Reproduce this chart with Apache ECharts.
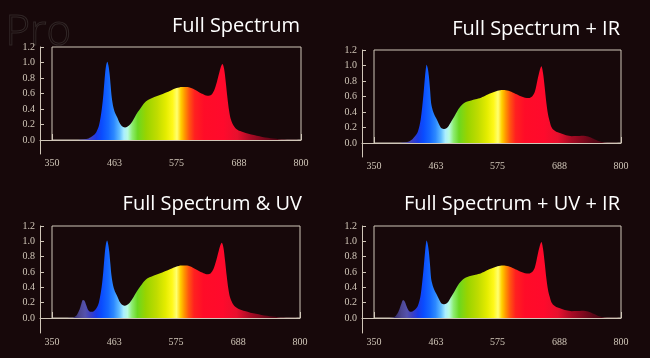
<!DOCTYPE html>
<html><head><meta charset="utf-8">
<script src="https://cdn.jsdelivr.net/npm/echarts@6/dist/echarts.min.js"></script>
<style>html,body{margin:0;padding:0;background:#17080a;}#c{width:650px;height:358px;}</style>
</head><body><div id="c"></div>
<script>
// ---- data ----
const wavelengths = [350,370,385,390,395,400,403,406,409,412,416,420,425,430,435,440,443,446,448,450,452,454,456,458,461,464,468,473,478,482,486,491,496,500,505,510,515,520,527,535,545,555,565,575,585,595,605,615,625,632,638,643,648,652,655,658,661,664,667,670,673,677,682,690,700,710,720,730,740,750,760,770,780,800];
const fullSpectrum = [0,0,0,0,0,0.003,0.005,0.007,0.009,0.012, 0.02,0.035,0.06,0.1,0.19,0.4,0.6,0.86,0.97,1.01, 0.96,0.86,0.7,0.55,0.42,0.35,0.29,0.21,0.17,0.16, 0.17,0.2,0.25,0.3,0.36,0.41,0.46,0.5,0.53,0.555, 0.58,0.61,0.64,0.67,0.685,0.685,0.66,0.62,0.585,0.57, 0.585,0.64,0.75,0.86,0.94,0.98,0.92,0.75,0.55,0.38, 0.27,0.2,0.15,0.115,0.09,0.07,0.055,0.04,0.028,0.018, 0.01,0.005,0.002,0];
const fullSpectrumIR = [0,0,0,0,0,0.004,0.006,0.008,0.011,0.015, 0.03,0.05,0.09,0.15,0.3,0.62,0.86,1.01,0.96,0.86, 0.7,0.52,0.45,0.4,0.35,0.31,0.25,0.19,0.18,0.19, 0.22,0.28,0.34,0.39,0.45,0.49,0.52,0.535,0.55,0.565, 0.585,0.62,0.65,0.675,0.685,0.675,0.645,0.61,0.585,0.58, 0.6,0.66,0.82,0.94,0.99,0.9,0.72,0.52,0.37,0.28, 0.21,0.17,0.145,0.125,0.1,0.088,0.09,0.095,0.085,0.055, 0.022,0.007,0.002,0];
const fullSpectrumUV = [0,0,0.003,0.01,0.04,0.11,0.18,0.235,0.225,0.17, 0.1,0.08,0.085,0.12,0.2,0.4,0.6,0.86,0.97,1.01, 0.96,0.86,0.7,0.55,0.42,0.35,0.29,0.21,0.17,0.16, 0.17,0.2,0.25,0.3,0.36,0.41,0.46,0.5,0.53,0.555, 0.58,0.61,0.64,0.67,0.685,0.685,0.66,0.62,0.585,0.57, 0.585,0.64,0.75,0.86,0.94,0.98,0.92,0.75,0.55,0.38, 0.27,0.2,0.15,0.115,0.09,0.07,0.055,0.04,0.028,0.018, 0.01,0.005,0.002,0];
const fullSpectrumUVIR = [0,0,0.008,0.03,0.09,0.19,0.235,0.215,0.16,0.11, 0.08,0.085,0.11,0.16,0.3,0.62,0.86,1.01,0.96,0.86, 0.7,0.52,0.45,0.4,0.35,0.31,0.25,0.19,0.18,0.19, 0.22,0.28,0.34,0.39,0.45,0.49,0.52,0.535,0.55,0.565, 0.585,0.62,0.65,0.675,0.685,0.675,0.645,0.61,0.585,0.58, 0.6,0.66,0.82,0.94,0.99,0.9,0.72,0.52,0.37,0.28, 0.21,0.17,0.145,0.125,0.1,0.088,0.09,0.095,0.085,0.055, 0.022,0.007,0.002,0];
const panelTitles = ['Full Spectrum','Full Spectrum + IR','Full Spectrum & UV','Full Spectrum + UV + IR'];
const xTickLabels = [350,463,575,688,800];
const yTickLabels = [0,0.2,0.4,0.6,0.8,1.0,1.2];
const X_MIN = 350, X_MAX = 800, Y_MIN = 0, Y_MAX = 1.2;

// ---- styling ----
const spectrumColors = [
  [350,'#1c1438'],[385,'#2e2660'],[400,'#4c4692'],[410,'#5552ac'],[420,'#3c40c4'],
  [430,'#1a3ae8'],[440,'#0a4cff'],[452,'#1468ff'],[462,'#2c88ff'],[472,'#60bcff'],
  [480,'#aaeeff'],[487,'#b8fbe0'],[495,'#8cec70'],[505,'#6cd820'],[520,'#98d400'],
  [540,'#c0dc00'],[556,'#e4ec00'],[568,'#fff81a'],[576,'#ffff70'],[583,'#ffd000'],
  [590,'#ff9400'],[598,'#ff5410'],[608,'#ff2020'],[625,'#ff0c28'],[660,'#ff0a2c'],
  [685,'#e8102e'],[710,'#a80a24'],[750,'#5a0616'],[800,'#30040c']
];
const bg = '#17080a';
const axisColor = '#d0c6b8';
const labelFont = '"Liberation Serif", "DejaVu Serif", serif';
const panels = [
  {values: fullSpectrum,     box:{left:52, top:47, width:249, height:93}, axis:{left:40, bottom:154}, title:{right:350, top:16}},
  {values: fullSpectrumIR,   box:{left:374, top:50, width:247, height:93}, axis:{left:362, bottom:157}, title:{right:30, top:19}},
  {values: fullSpectrumUV,   box:{left:52, top:226, width:248, height:92}, axis:{left:40, bottom:333}, title:{right:348, top:194}},
  {values: fullSpectrumUVIR, box:{left:374, top:226, width:247, height:92}, axis:{left:362, bottom:333}, title:{right:30, top:194}}
];

const chart = echarts.init(document.getElementById('c'), null, {renderer:'canvas'});
const grid = [], xAxis = [], yAxis = [], series = [], title = [];
const grad = () => new echarts.graphic.LinearGradient(0,0,1,0,
  spectrumColors.map(([w,c]) => ({offset:(w - X_MIN)/(X_MAX - X_MIN), color:c})));

panels.forEach((p, i) => {
  const b = p.box;
  grid.push({left:b.left, top:b.top, width:b.width, height:b.height, show:true,
    borderColor:axisColor, borderWidth:1, backgroundColor:'transparent'});
  xAxis.push({gridIndex:i, type:'value', min:X_MIN, max:X_MAX, show:false});
  yAxis.push({gridIndex:i, type:'value', min:Y_MIN, max:Y_MAX, show:false});
  series.push({type:'line', xAxisIndex:i, yAxisIndex:i, showSymbol:false, smooth:0.3,
    lineStyle:{width:0}, areaStyle:{color:grad(), opacity:1},
    data: wavelengths.map((w, k) => [w, p.values[k]]), silent:true});
  title.push({text:panelTitles[i], right:p.title.right, top:p.title.top, padding:0,
    textStyle:{color:'#ffffff', fontSize:20, fontWeight:'normal', fontFamily:'Open Sans'}});
});
panels.forEach((p, i) => {
  const b = p.box, a = p.axis;
  const gi = 4 + i;
  const xMinOuter = X_MIN - (b.left - a.left) * (X_MAX - X_MIN) / b.width;
  const yMinOuter = Y_MIN - (a.bottom - (b.top + b.height)) * (Y_MAX - Y_MIN) / b.height;
  grid.push({left:a.left, top:b.top, width:b.left + b.width - a.left, height:a.bottom - b.top});
  xAxis.push({gridIndex:gi, type:'value', min:xMinOuter, max:X_MAX,
    axisLine:{show:true, lineStyle:{color:axisColor, width:1}},
    axisTick:{show:true, inside:true, length:6, customValues:xTickLabels, lineStyle:{color:axisColor}},
    axisLabel:{customValues:xTickLabels, color:axisColor, fontFamily:labelFont, fontSize:10, margin:4},
    splitLine:{show:false}});
  yAxis.push({gridIndex:gi, type:'value', min:yMinOuter, max:Y_MAX,
    axisLine:{show:true, lineStyle:{color:axisColor, width:1}},
    axisTick:{show:true, inside:true, length:4, customValues:yTickLabels, lineStyle:{color:axisColor}},
    axisLabel:{customValues:yTickLabels, color:axisColor, fontFamily:labelFont, fontSize:10, margin:5,
      formatter:v => Number(v).toFixed(1)},
    splitLine:{show:false}});
});

chart.setOption({
  backgroundColor: bg,
  animation:false,
  title, grid, xAxis, yAxis, series,
  graphic:[{type:'text', left:5, top:12, silent:true,
    style:{text:'Pro', font:'300 42px "Open Sans"', fill:'transparent', stroke:'#302626', lineWidth:1}}]
});
</script></body></html>
